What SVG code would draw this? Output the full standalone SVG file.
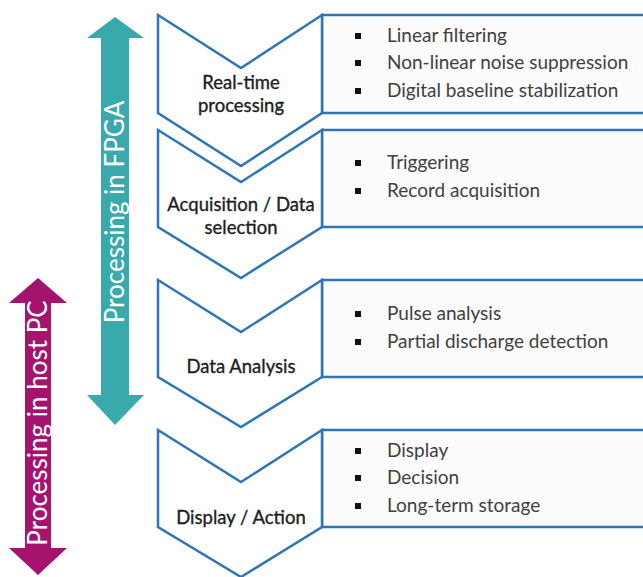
<svg xmlns="http://www.w3.org/2000/svg" width="643" height="577" viewBox="0 0 643 577">
<style>
.chev{fill:#ffffff;stroke:#2E75B6;stroke-width:2.5;stroke-linejoin:miter}
.box{fill:#fcfcfc;stroke:#2E75B6;stroke-width:2.5}
.lbl{font-family:Lato,"Liberation Sans",sans-serif;font-size:18.5px;fill:#1e1e1e;stroke:#1e1e1e;stroke-width:0.35;text-anchor:middle}
.item{font-family:Lato,"Liberation Sans",sans-serif;font-size:19px;fill:#404040}
.blt{fill:#111111}
.vt{font-family:Lato,"Liberation Sans",sans-serif;font-size:26px;fill:#ffffff;text-anchor:middle}
</style>
<rect width="643" height="577" fill="#ffffff"/>
<g id="arrows">
<g id="fpga">
<polygon points="115,17 144,38 129,38 129,395 144,395 115,425 87,395 101,395 101,38 87,38" fill="#3AA9AC"/>
<text class="vt" transform="translate(124,212) rotate(-90)">Processing in FPGA</text>
</g>
<g id="hostpc">
<polygon points="38,278 67,303 51,303 51,548 67,548 38,575 9,548 25,548 25,303 9,303" fill="#A5136F"/>
<text class="vt" transform="translate(47,423) rotate(-90)">Processing in host PC</text>
</g>
</g>
<g id="stage1">
<rect class="box" x="322" y="15" width="340" height="98"/>
<path class="chev" d="M158,15 L241,68 L322,15 L322,113 L241,166 L158,113 Z"/>
<text class="lbl" x="241" y="89">Real-time</text>
<text class="lbl" x="241" y="112">processing</text>
<rect class="blt" x="355" y="33" width="6" height="6"/>
<rect class="blt" x="355" y="60" width="6" height="6"/>
<rect class="blt" x="355" y="88" width="6" height="6"/>
<text class="item" x="387" y="42">Linear filtering</text>
<text class="item" x="387" y="69">Non-linear noise suppression</text>
<text class="item" x="387" y="97">Digital baseline stabilization</text>
</g>
<g id="stage2">
<rect class="box" x="322" y="130" width="340" height="97"/>
<path class="chev" d="M158,130 L241,182 L322,130 L322,227 L241,278 L158,227 Z"/>
<text class="lbl" x="241" y="211">Acquisition / Data</text>
<text class="lbl" x="241" y="234">selection</text>
<rect class="blt" x="355" y="160" width="6" height="6"/>
<rect class="blt" x="355" y="188" width="6" height="6"/>
<text class="item" x="387" y="169">Triggering</text>
<text class="item" x="387" y="197">Record acquisition</text>
</g>
<g id="stage3">
<rect class="box" x="322" y="280" width="340" height="97"/>
<path class="chev" d="M158,280 L241,332 L322,280 L322,377 L241,427 L158,377 Z"/>
<text class="lbl" x="241" y="373">Data Analysis</text>
<rect class="blt" x="355" y="311" width="6" height="6"/>
<rect class="blt" x="355" y="339" width="6" height="6"/>
<text class="item" x="387" y="320">Pulse analysis</text>
<text class="item" x="387" y="348">Partial discharge detection</text>
</g>
<g id="stage4">
<rect class="box" x="322" y="430" width="340" height="97"/>
<path class="chev" d="M158,430 L241,482 L322,430 L322,527 L241,577 L158,527 Z"/>
<text class="lbl" x="241" y="524">Display / Action</text>
<rect class="blt" x="355" y="448" width="6" height="6"/>
<rect class="blt" x="355" y="475" width="6" height="6"/>
<rect class="blt" x="355" y="503" width="6" height="6"/>
<text class="item" x="387" y="457">Display</text>
<text class="item" x="387" y="484">Decision</text>
<text class="item" x="387" y="512">Long-term storage</text>
</g>
</svg>
